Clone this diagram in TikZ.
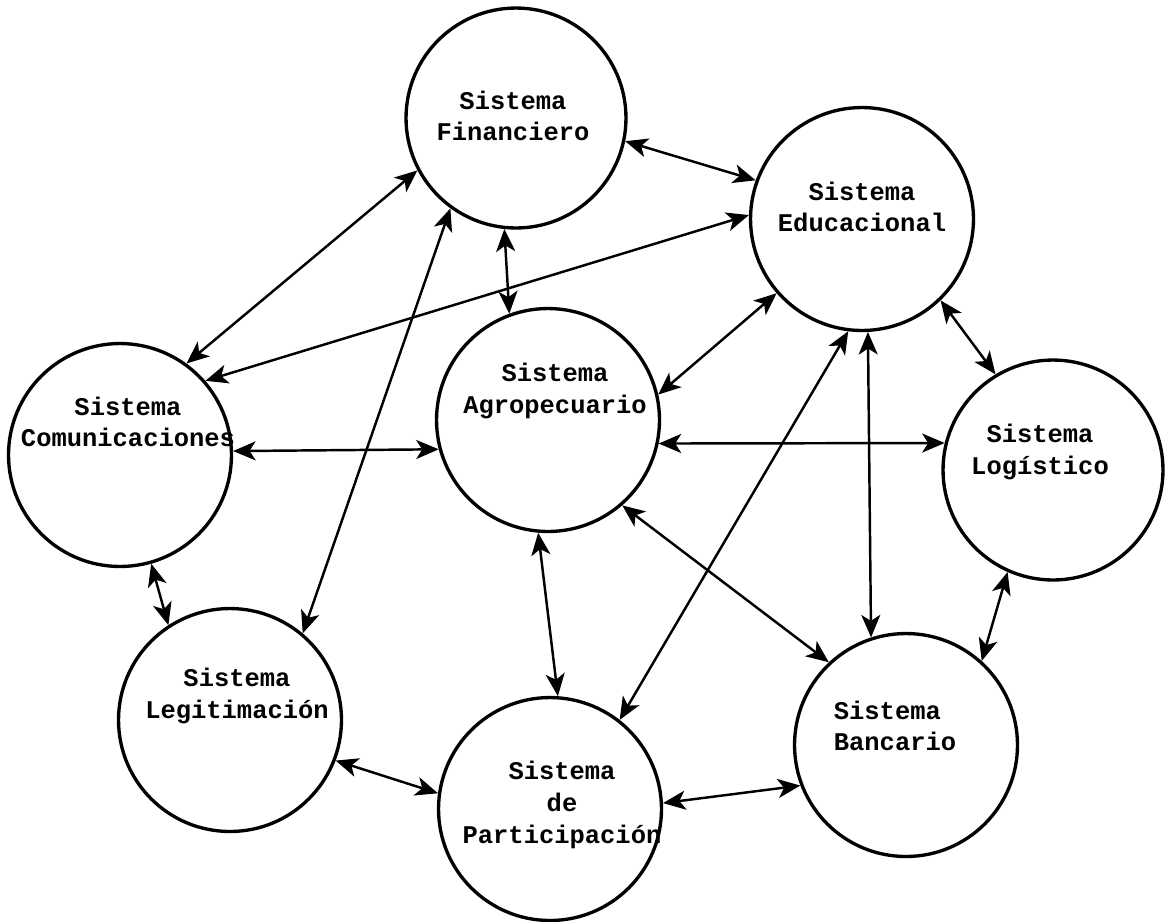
\documentclass[tikz,border=0pt]{standalone}
\usepackage{fontspec}
\setmonofont{Liberation Mono}
\usetikzlibrary{arrows.meta}

\begin{document}
\begin{tikzpicture}[
        x=0.02cm, y=-0.02cm,
        sys/.style={
            circle,
            draw=black,
            line width=1.9pt,
            minimum size=4.46cm,
            inner sep=0pt
        },
        systext/.style={
            font=\fontsize{14.5pt}{18pt}\selectfont\ttfamily\bfseries,
            align=center,
            inner sep=0pt
        },
        arrow/.style={
            {Stealth[length=4.5mm,width=3.8mm,inset=1.2mm]}-{Stealth[length=4.5mm,width=3.8mm,inset=1.2mm]},
            line width=1.4pt
        }
    ]
        \path[use as bounding box, fill=white] (0,0) rectangle (1165,921);

        % Nodes
        \node[sys, minimum size=4.4cm] (fin) at (516,118) {};
        \node[sys] (edu) at (862,219) {};
        \node[sys] (com) at (120,455) {};
        \node[sys] (agro) at (548,420) {};
        \node[sys, minimum size=4.4cm] (log) at (1053,470) {};
        \node[sys] (leg) at (230,720) {};
        \node[sys] (par) at (550,809) {};
        \node[sys] (ban) at (906,745) {};

        % Labels
        \node[systext] (finT) at (513,116) {Sistema\\Financiero};
        \node[systext] (eduT) at (862,207) {Sistema\\Educacional};
        \node[systext] (comT) at (128,422) {Sistema\\Comunicaciones};
        \node[systext] (agroT) at (555,391) {Sistema\\Agropecuario};
        \node[systext] (logT) at (1040,452) {Sistema\\Logístico};
        \node[systext] (legT) at (237,696) {Sistema\\Legitimación};
        \node[systext] (parT) at (562,805) {Sistema\\de\\Participación};
        \node[systext, align=left] (banT) at (895,726) {Sistema\\Bancario};

        % Edges
        \draw[arrow] (fin.-12) -- (edu.160);
        \draw[arrow] (fin.-152) -- (com.54);
        \draw[arrow] (fin.-126) -- (leg.50);
        \draw[arrow] (fin.-96) -- (agro.110);
        \draw[arrow] (edu.178) -- (com.41);
        \draw[arrow] (edu.-139) -- (agro.13);
        \draw[arrow] (edu.-97) -- (par.52);
        \draw[arrow] (edu.-87) -- (ban.108);
        \draw[arrow] (edu.-46) -- (log.121);
        \draw[arrow] (com.2) -- (agro.-165);
        \draw[arrow] (agro.-12) -- (log.166);
        \draw[arrow] (agro.-95) -- (par.86);
        \draw[arrow] (agro.-49) -- (ban.133);
        \draw[arrow] (com.-74) -- (leg.123);
        \draw[arrow] (leg.-21) -- (par.172);
        \draw[arrow] (par.3) -- (ban.-159);
        \draw[arrow] (log.-114) -- (ban.48);
    \end{tikzpicture}
\end{document}
